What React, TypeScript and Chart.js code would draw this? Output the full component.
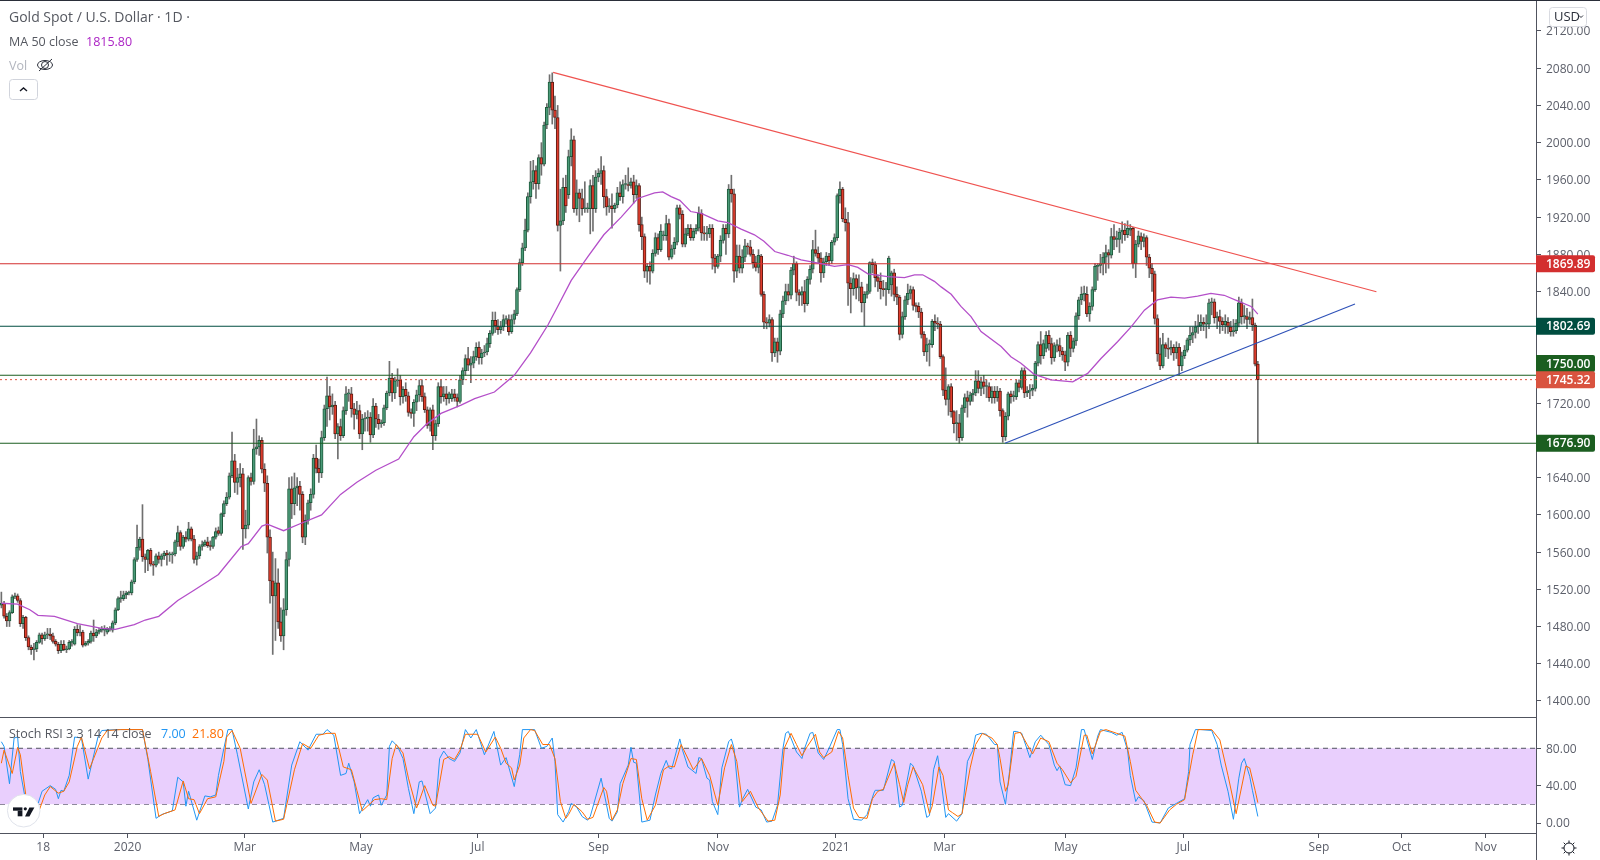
import React, { useEffect, useRef } from "react";
import { Chart, registerables } from "chart.js";
Chart.register(...registerables);

const FONT = '"Open Sans", "Noto Sans", sans-serif';

const opens = [
1503,1505,1491,1486,1495,1512,1513,1508,1483,1490,
1468,1458,1455,1456,1463,1471,1467,1471,1472,1470,
1464,1461,1454,1461,1455,1456,1463,1461,1477,1473,
1474,1460,1462,1464,1473,1470,1474,1476,1476,1474,
1477,1476,1484,1498,1510,1510,1514,1516,1516,1528,
1552,1565,1574,1555,1552,1562,1547,1546,1556,1552,
1556,1559,1557,1557,1558,1571,1581,1566,1576,1574,
1585,1574,1552,1556,1566,1568,1571,1567,1566,1576,
1583,1580,1601,1612,1619,1642,1658,1635,1640,1644,
1585,1589,1640,1636,1671,1673,1680,1649,1634,1576,
1529,1513,1527,1485,1470,1498,1552,1628,1612,1629,
1631,1622,1576,1594,1613,1622,1661,1650,1645,1683,
1714,1728,1716,1718,1687,1695,1685,1712,1730,1730,
1714,1708,1712,1687,1703,1704,1705,1686,1717,1703,
1698,1699,1715,1731,1747,1731,1744,1745,1727,1735,
1728,1710,1709,1721,1729,1739,1727,1713,1696,1713,
1685,1698,1738,1727,1730,1725,1725,1730,1726,1722,
1745,1755,1768,1761,1763,1770,1780,1769,1774,1775,
1784,1795,1809,1803,1799,1802,1810,1810,1797,1810,
1816,1842,1871,1887,1906,1942,1958,1970,1956,1984,
1977,2019,2038,2065,2035,2027,1911,1916,1952,1944,
1985,2003,1929,1946,1940,1929,1929,1929,1954,1929,
1963,1967,1970,1942,1931,1932,1929,1933,1946,1942,
1955,1955,1954,1958,1944,1954,1912,1899,1862,1867,
1862,1881,1898,1885,1900,1900,1913,1877,1886,1893,
1930,1923,1891,1902,1908,1898,1905,1908,1924,1903,
1902,1902,1908,1876,1867,1878,1895,1908,1902,1950,
1945,1862,1878,1865,1877,1889,1888,1880,1871,1866,
1878,1837,1807,1806,1810,1774,1786,1776,1816,1830,
1840,1836,1863,1870,1839,1836,1840,1827,1853,1864,
1885,1881,1876,1860,1872,1878,1873,1893,1898,1943,
1950,1918,1914,1849,1843,1854,1844,1845,1828,1837,
1840,1871,1869,1855,1851,1843,1842,1842,1847,1860,
1837,1834,1794,1813,1831,1838,1842,1825,1824,1818,
1794,1775,1783,1783,1808,1806,1805,1770,1734,1724,
1738,1711,1698,1699,1683,1715,1726,1722,1729,1731,
1744,1736,1743,1738,1738,1726,1733,1726,1733,1712,
1684,1706,1730,1727,1727,1742,1737,1755,1731,1733,
1734,1736,1763,1783,1771,1779,1793,1784,1769,1782,
1782,1776,1772,1764,1793,1779,1787,1814,1831,1837,
1837,1816,1824,1842,1867,1868,1870,1877,1882,1879,
1899,1896,1896,1904,1906,1901,1906,1908,1870,1891,
1899,1894,1898,1877,1865,1859,1811,1773,1760,1783,
1779,1778,1780,1774,1780,1760,1771,1777,1788,1793,
1796,1802,1803,1807,1805,1805,1828,1829,1812,1813,
1808,1804,1807,1802,1797,1798,1806,1828,1813,1813,
1810,1812,1804,1762];
const closes = [
1505,1491,1486,1495,1512,1513,1508,1483,1490,1468,
1458,1455,1456,1463,1471,1467,1471,1472,1470,1464,
1461,1454,1461,1455,1456,1463,1463,1477,1473,1474,
1460,1462,1464,1473,1470,1474,1476,1476,1477,1477,
1478,1484,1498,1510,1511,1514,1516,1516,1528,1552,
1565,1574,1555,1552,1562,1547,1546,1556,1552,1556,
1559,1557,1557,1558,1571,1581,1566,1576,1574,1585,
1574,1552,1556,1566,1568,1571,1567,1566,1576,1582,
1580,1601,1612,1619,1642,1658,1635,1640,1644,1585,
1589,1640,1636,1671,1673,1680,1649,1634,1576,1529,
1513,1527,1485,1470,1498,1552,1628,1612,1629,1631,
1622,1576,1594,1613,1622,1661,1650,1645,1683,1714,
1728,1716,1718,1687,1695,1685,1712,1730,1730,1714,
1708,1712,1687,1703,1704,1705,1686,1717,1703,1698,
1699,1715,1731,1747,1731,1744,1745,1727,1735,1728,
1710,1709,1721,1729,1739,1727,1713,1696,1713,1685,
1698,1738,1727,1730,1725,1730,1730,1726,1722,1745,
1755,1768,1761,1763,1770,1780,1769,1774,1775,1784,
1795,1809,1803,1799,1802,1810,1810,1797,1810,1816,
1842,1871,1887,1906,1942,1958,1970,1956,1984,1977,
2019,2038,2065,2035,2027,1911,1916,1952,1932,1985,
2003,1929,1946,1940,1929,1929,1929,1954,1929,1963,
1967,1970,1942,1931,1932,1929,1933,1946,1942,1955,
1955,1954,1958,1944,1954,1912,1899,1862,1867,1862,
1881,1898,1885,1905,1900,1913,1877,1886,1893,1930,
1923,1891,1902,1908,1898,1905,1908,1924,1903,1902,
1902,1908,1876,1867,1878,1895,1908,1902,1950,1945,
1862,1878,1865,1877,1889,1888,1880,1871,1866,1879,
1837,1807,1806,1810,1774,1786,1776,1816,1830,1840,
1836,1863,1870,1839,1836,1840,1827,1853,1864,1885,
1881,1876,1860,1872,1878,1873,1893,1898,1943,1950,
1918,1914,1849,1843,1854,1844,1845,1828,1837,1840,
1871,1869,1855,1851,1843,1842,1842,1876,1860,1837,
1834,1794,1813,1831,1838,1842,1825,1824,1818,1794,
1775,1783,1783,1808,1806,1805,1770,1734,1724,1738,
1711,1698,1699,1683,1715,1726,1722,1729,1731,1744,
1736,1743,1738,1738,1726,1733,1726,1733,1712,1684,
1706,1730,1727,1727,1742,1737,1755,1731,1733,1734,
1736,1763,1783,1771,1784,1793,1784,1769,1782,1782,
1776,1772,1764,1793,1779,1787,1814,1831,1837,1837,
1816,1824,1842,1867,1868,1870,1877,1882,1879,1899,
1896,1896,1904,1906,1901,1908,1908,1870,1891,1900,
1894,1898,1877,1865,1859,1811,1773,1760,1783,1779,
1778,1780,1774,1780,1760,1771,1777,1788,1793,1796,
1802,1803,1807,1805,1805,1828,1829,1812,1813,1808,
1804,1808,1802,1797,1798,1806,1828,1813,1813,1810,
1812,1804,1762,1745.32];
const highs = [
1517,1507,1494,1497,1514,1516,1515,1510,1492,1491,
1470,1460,1462,1465,1473,1473,1474,1478,1478,1473,
1466,1463,1465,1465,1459,1465,1466,1480,1482,1481,
1476,1464,1466,1475,1487,1477,1478,1480,1481,1479,
1480,1486,1500,1512,1518,1518,1518,1518,1530,1554,
1589,1576,1611,1558,1563,1564,1550,1558,1560,1558,
1561,1562,1560,1560,1573,1588,1583,1578,1582,1592,
1587,1578,1560,1568,1572,1573,1576,1572,1577,1586,
1587,1602,1615,1624,1645,1689,1665,1650,1655,1650,
1605,1642,1645,1692,1703,1685,1683,1655,1642,1584,
1560,1553,1542,1500,1510,1560,1640,1641,1645,1640,
1636,1625,1600,1616,1628,1665,1675,1660,1690,1718,
1748,1738,1730,1722,1698,1703,1716,1738,1735,1737,
1720,1722,1718,1708,1710,1712,1710,1725,1720,1708,
1702,1718,1733,1765,1752,1748,1757,1750,1738,1742,
1732,1714,1724,1734,1745,1745,1731,1716,1715,1718,
1702,1742,1745,1738,1738,1732,1735,1735,1730,1750,
1758,1772,1780,1770,1776,1785,1786,1778,1782,1790,
1798,1818,1818,1810,1808,1815,1814,1815,1815,1820,
1844,1875,1892,1918,1946,1980,1981,1975,1987,2000,
2022,2042,2073,2075,2050,2040,1950,1962,1965,1992,
2015,2007,1960,1950,1950,1958,1935,1960,1965,1970,
1972,1985,1975,1950,1940,1945,1935,1952,1958,1960,
1965,1973,1962,1965,1960,1956,1920,1902,1870,1872,
1885,1903,1902,1912,1905,1922,1918,1890,1898,1933,
1933,1927,1908,1912,1912,1908,1912,1931,1928,1910,
1910,1912,1912,1880,1880,1900,1912,1912,1955,1965,
1950,1890,1890,1885,1896,1892,1895,1885,1878,1885,
1880,1840,1812,1815,1812,1790,1790,1820,1835,1848,
1848,1866,1878,1872,1842,1845,1852,1856,1868,1895,
1906,1888,1882,1876,1882,1881,1895,1902,1945,1958,
1952,1930,1925,1855,1860,1858,1858,1850,1840,1848,
1872,1875,1872,1858,1860,1852,1850,1878,1862,1864,
1845,1836,1818,1835,1848,1846,1845,1828,1828,1822,
1797,1790,1788,1810,1815,1812,1808,1772,1758,1740,
1741,1712,1712,1708,1718,1730,1733,1732,1735,1755,
1755,1748,1750,1745,1742,1738,1738,1738,1736,1714,
1710,1732,1733,1733,1745,1745,1758,1758,1738,1740,
1740,1765,1786,1797,1788,1797,1798,1790,1785,1788,
1790,1780,1776,1796,1797,1790,1817,1834,1845,1846,
1845,1828,1845,1870,1870,1880,1882,1890,1885,1908,
1912,1905,1908,1915,1913,1916,1912,1909,1895,1905,
1903,1902,1900,1880,1870,1862,1815,1790,1795,1785,
1790,1787,1783,1786,1784,1775,1782,1790,1802,1802,
1808,1815,1815,1812,1815,1832,1833,1832,1818,1820,
1812,1815,1812,1808,1810,1810,1834,1832,1825,1822,
1818,1832,1806,1765];
const lows = [
1500,1489,1480,1480,1494,1510,1506,1480,1478,1465,
1455,1450,1444,1453,1462,1461,1465,1467,1466,1462,
1459,1451,1452,1454,1452,1455,1459,1460,1470,1470,
1458,1459,1460,1462,1464,1468,1472,1474,1470,1472,
1475,1474,1482,1497,1506,1508,1510,1514,1514,1526,
1550,1562,1550,1538,1540,1545,1535,1544,1548,1545,
1552,1546,1550,1548,1556,1566,1562,1564,1571,1572,
1572,1548,1546,1553,1562,1566,1565,1562,1564,1574,
1578,1578,1598,1610,1617,1640,1624,1622,1630,1563,
1575,1585,1632,1633,1665,1664,1645,1625,1559,1505,
1450,1465,1478,1464,1455,1492,1545,1596,1600,1610,
1605,1570,1568,1590,1605,1618,1645,1635,1640,1680,
1695,1702,1708,1682,1660,1680,1683,1708,1722,1705,
1692,1703,1682,1670,1690,1690,1678,1683,1694,1692,
1694,1696,1713,1728,1722,1725,1738,1718,1720,1722,
1706,1704,1695,1712,1722,1722,1710,1693,1690,1670,
1680,1695,1720,1722,1718,1720,1722,1722,1716,1720,
1740,1750,1755,1742,1758,1766,1762,1762,1770,1772,
1780,1793,1796,1794,1795,1798,1805,1793,1795,1805,
1814,1840,1868,1884,1904,1935,1950,1940,1950,1965,
1975,2015,2030,2020,2015,1905,1862,1912,1925,1940,
1975,1925,1922,1915,1922,1925,1925,1902,1905,1925,
1958,1955,1930,1922,1925,1908,1925,1930,1938,1935,
1950,1948,1951,1935,1940,1905,1885,1855,1850,1848,
1860,1878,1880,1883,1895,1895,1874,1875,1880,1890,
1918,1888,1888,1900,1895,1895,1902,1905,1895,1895,
1895,1898,1864,1860,1865,1872,1892,1880,1898,1936,
1850,1855,1860,1860,1872,1880,1878,1865,1862,1860,
1835,1800,1800,1802,1765,1770,1764,1772,1812,1826,
1830,1832,1858,1830,1825,1825,1818,1825,1848,1860,
1878,1870,1850,1855,1868,1868,1870,1890,1895,1935,
1915,1905,1825,1817,1836,1832,1830,1818,1803,1833,
1838,1860,1845,1840,1832,1835,1825,1838,1835,1830,
1826,1788,1790,1810,1826,1832,1820,1818,1812,1790,
1771,1765,1760,1780,1798,1800,1768,1728,1718,1707,
1705,1688,1680,1677,1680,1710,1705,1718,1722,1728,
1731,1728,1730,1726,1722,1720,1720,1722,1706,1678,
1680,1702,1720,1722,1724,1732,1735,1726,1727,1725,
1728,1733,1760,1762,1768,1775,1777,1762,1765,1775,
1770,1766,1755,1760,1770,1775,1782,1810,1826,1830,
1813,1808,1820,1840,1852,1860,1858,1860,1865,1876,
1885,1888,1882,1892,1895,1898,1900,1865,1855,1888,
1885,1888,1868,1855,1840,1805,1765,1756,1758,1770,
1768,1772,1766,1768,1750,1755,1768,1775,1782,1785,
1790,1795,1798,1798,1790,1800,1815,1806,1800,1795,
1798,1795,1795,1792,1792,1795,1802,1805,1806,1800,
1805,1798,1760,1677];

// MA 50 line, read at its visible bends
const maBars = [0,6,10.5,13.5,19.6,28,37,42,49,53,58,65,71,80,88.4,91,96,98,104,110.5,118,125,131,138,146.4,152,156.5,162,169.4,174.4,181.7,189,195,201.4,205,210,216,222,228.4,234.5,240.7,243.7,246.8,250,254,257.9,264,267.7,272.6,277.5,281,285,289.8,294.7,302,307,312,315.6,319.3,326.6,332.8,336.5,339.5,343.8,346.3,350,353.6,357.3,361,368.4,372,375.7,380.6,386.8,394.8,400.3,405.2,411.3,416.3,421.2,426,431,436,440.8,445.7,450.6,455.5,460.5,463];
const maValues = [1505,1504,1498,1492,1491,1483,1478,1477,1482,1487,1491,1508,1519,1536,1566,1569,1588,1590,1583,1591,1600,1622,1635,1648,1660,1684,1697,1709,1718,1725,1732,1750,1774,1804,1824,1852,1877,1901,1920,1940,1946,1947,1942,1938,1926,1924,1916,1914,1907,1901,1894,1883,1879,1874,1870,1867,1869,1866,1859,1856,1855,1858,1858,1851,1845,1837,1824,1813,1797,1781,1770,1763,1751,1745,1743,1752,1768,1786,1802,1820,1831,1834,1833,1835,1838,1836,1830,1824,1815.8];

// Stoch RSI, read at its turning points
const kBars = [0,1,3,4.7,6,7,9,13,15,18,20,21,22,23,25,27,29.5,32,35.6,37,42,52,54,57,59,63,65,67,68,69,72,75,77,79,80,82,83.5,85,87,91,93,95,97,100,104,107,110,113,116,118.5,120,122.5,125,127,128,130,132,135,136,137,139,140,142,143,144,146,148,150,152,154,155,158,160,161.5,163,165,167,169,171,173,175,178,181.5,184,186,189,191,192,196.5,199,201,203,204,205,207,209,210,212,214,216,217,221,224,225,227,228,231,232,233,234,236,239,241,243,245,246,247,250,251,253,256,257,258,260,261,262,264,265.5,268,269,270,272,273,275,278,280,282,284,286,288,289,290,293,295,296,298,299,301,303,305,308,309,310,312,314,317,319,321.5,322,325,328,329,331,332,335,336,339,341,342,343.5,345,346,348,349,352,354,356,358,359,361,363,366,367,368,370,371.5,373,374,376,379,381,383,386,388,389,390,392,394,396,398,399,402,404,405,409,411,413,415,416,418,419,421,424,427,430,433,436,437.5,438,440,442,446,448,449.5,452,454,456,457,458,460,461,463];
const kValues = [87,82,42,91,92,55,23,16,34,40,36,26,35,34,51,92,91,47,92,99,100,100,68,5,9,13,49,44,18,34,3,29,28,30,51,80,100,100,73,15,44,57,41,1,5,62,87,78,95,95,100,94,51,53,64,44,10,25,18,27,30,19,30,82,88,82,69,37,10,44,45,10,16,69,77,69,66,75,100,91,100,73,98,62,70,39,73,100,100,80,82,91,66,9,1,12,21,17,7,3,7,48,5,2,12,42,62,81,65,64,1,3,30,53,67,59,58,90,78,60,53,70,69,48,46,23,9,59,87,90,80,17,25,36,17,14,1,2,19,80,96,98,76,69,80,96,97,75,68,80,100,100,84,26,4,3,9,32,35,35,68,66,17,19,64,61,34,6,8,57,72,51,6,10,2,10,66,78,94,96,95,84,84,44,20,55,98,98,96,70,87,94,84,62,56,61,41,40,59,100,100,68,93,100,97,94,97,78,51,23,28,24,1,0,16,21,26,55,84,100,100,99,84,62,34,4,48,64,69,50,35,7];
const dBars = [0,1,4,6,7,9,14,16,18,21,23,25,28,29.5,32.5,34,37,39,44,52,55,58,60,64,67,69,71,73,76,79,82,83,85,88,92,96,98,101,104,108,111,114,117,120,123,126,129,131,133,137.5,140,142,144,145.5,148,150,153,156,159,160,163,165,167,169,171,175.5,178.5,182,184,186,188,189,191,192.5,195,196.5,199.5,202,204,206,208,209,211,214,216,218,222,223,225,227,229,232,234,236,238,241,244,246,248,250.5,252,255,258,261,264,266.5,269,271,273,276,279,282.5,285,287,288.5,291,293,295,297,300,301.5,303,306,308.5,310,312,314,316,319,321,323,325,329,331,332.5,334,336,339.5,342,343,345.5,347,349,350.5,352.5,354,357,359,361.5,365,367,368,370,371,373.5,375.5,378,380,383,386,389,391,394,396,399,400,402,405,407,411,414,416,418,420,422,425,427,430.5,433,436,439,441,446,449,452,455,458.6,460,462,463];
const dValues = [64,78,53,81,73,30,14,30,39,32,34,44,82,92,58,69,91,99,100,100,55,7,10,14,45,26,25,10,26,28,66,92,99,80,21,52,46,2,4,57,85,80,94,96,96,60,57,35,13,25,26,25,69,84,75,48,16,40,19,18,68,71,68,78,95,95,76,92,80,64,59,46,62,91,100,99,84,84,69,23,5,9,20,12,4,6,38,34,3,14,42,69,68,26,3,19,57,61,60,84,75,57,69,51,19,59,84,66,23,34,16,2,3,30,80,96,84,72,82,95,76,70,76,98,91,51,16,6,5,26,34,36,64,41,22,41,60,41,10,18,60,51,14,11,7,10,59,84,96,91,84,69,34,41,96,97,84,74,91,87,64,57,43,50,94,94,74,98,100,96,93,66,35,27,19,1,0,14,20,25,73,100,100,89,51,10,61,59,35,21.8];

const bandLevels = [80, 20];

const priceTickMin = 1400;
const priceTickMax = 2120;
const priceTickStep = 40;
const stochTicks = [80, 40, 0];

const xTickBars = [15.4, 46.5, 89.7, 132.5, 175.5, 220.1, 264, 307.5, 347.5, 392.2, 435.5, 485.5, 516, 546.9];
const xTickLabels = ["18", "2020", "Mar", "May", "Jul", "Sep", "Nov", "2021", "Mar", "May", "Jul", "Sep", "Oct", "Nov"];

const levelValues = [1869.89, 1802.69, 1750, 1676.9];
const levelColors = ["#d32f2f", "#004d40", "#1b5e20", "#1b5e20"];
const lastPrice = 1745.32;

const resistanceBars = [203.3, 506.7];
const resistanceValues = [2075.6, 1839.8];
const supportBars = [369.8, 498.8];
const supportValues = [1677, 1826.6];

const tagValues = [1869.89, 1802.69, 1750, 1745.32, 1676.9];
const tagColors = ["#d32f2f", "#004d40", "#1b5e20", "#d9533f", "#1b5e20"];
const tagShift = [0, 0, -11.7, 0, 0];

const minBar = -0.5;
const maxBar = 565.5;

const priceOverlay = {
  id: "priceOverlay",
  afterDraw(chart: any) {
    const ctx = chart.ctx;
    const y = chart.scales.y;
    ctx.save();
    ctx.fillStyle = "#50535e";
    ctx.fillRect(0, 717, 1536, 1);
    ctx.fillRect(1536, 0, 1, 718);
    ctx.fillStyle = "#2a2e39";
    ctx.fillRect(0, 0, 1600, 1);
    ctx.textBaseline = "middle";
    ctx.textAlign = "left";
    ctx.fillStyle = "#555860";
    ctx.font = `14px ${FONT}`;
    ctx.fillText("Gold Spot / U.S. Dollar · 1D ·", 9, 18);
    ctx.font = `12.5px ${FONT}`;
    ctx.fillText("MA 50 close", 9, 42);
    ctx.fillStyle = "#ab22c4";
    ctx.fillText("1815.80", 86, 42);
    ctx.fillStyle = "#b2b5be";
    ctx.fillText("Vol", 9, 66);
    // hidden-volume eye
    ctx.strokeStyle = "#2a2e39";
    ctx.lineWidth = 1;
    ctx.beginPath();
    ctx.ellipse(45, 65, 7.5, 4.5, 0, 0, Math.PI * 2);
    ctx.moveTo(48.5, 65);
    ctx.arc(45, 65, 3.5, 0, Math.PI * 2);
    ctx.moveTo(39, 71);
    ctx.lineTo(52, 59);
    ctx.stroke();
    // collapse button
    ctx.strokeStyle = "#d1d4dc";
    ctx.beginPath();
    ctx.roundRect(9.5, 79.5, 28, 20, 3);
    ctx.stroke();
    ctx.strokeStyle = "#131722";
    ctx.lineWidth = 1.4;
    ctx.beginPath();
    ctx.moveTo(20, 91);
    ctx.lineTo(23.5, 88);
    ctx.lineTo(27, 91);
    ctx.stroke();
    // price tags
    tagValues.forEach((v, i) => {
      const cy = y.getPixelForValue(v) + tagShift[i];
      ctx.fillStyle = tagColors[i];
      ctx.beginPath();
      ctx.roundRect(1536, cy - 8.5, 59, 17, [0, 2, 2, 0]);
      ctx.fill();
      ctx.fillStyle = "#ffffff";
      ctx.font = `600 12px ${FONT}`;
      ctx.fillText(v.toFixed(2), 1546, cy + 0.5);
    });
    // currency button
    ctx.fillStyle = "#ffffff";
    ctx.strokeStyle = "#d9dbe1";
    ctx.lineWidth = 1;
    ctx.beginPath();
    ctx.roundRect(1549.5, 7.5, 37, 19, 3);
    ctx.fill();
    ctx.stroke();
    ctx.fillStyle = "#2a2e39";
    ctx.font = `13px ${FONT}`;
    ctx.fillText("USD", 1554, 17);
    ctx.strokeStyle = "#2a2e39";
    ctx.beginPath();
    ctx.moveTo(1579, 15.5);
    ctx.lineTo(1581, 17.5);
    ctx.lineTo(1583, 15.5);
    ctx.stroke();
    ctx.restore();
  },
};

const stochOverlay = {
  id: "stochOverlay",
  afterDraw(chart: any) {
    const ctx = chart.ctx;
    ctx.save();
    ctx.fillStyle = "#50535e";
    ctx.fillRect(0, 115, 1536, 1);
    ctx.fillRect(1536, 0, 1, 142);
    ctx.textBaseline = "middle";
    ctx.textAlign = "left";
    ctx.font = `12.5px ${FONT}`;
    ctx.fillStyle = "#555860";
    ctx.fillText("Stoch RSI 3 3 14 14 close", 9, 16);
    ctx.fillStyle = "#2196f3";
    ctx.fillText("7.00", 161, 16);
    ctx.fillStyle = "#ff6d00";
    ctx.fillText("21.80", 192, 16);
    // logo badge
    const cx = 23.7;
    const cy = 92.7;
    ctx.fillStyle = "#ffffff";
    ctx.strokeStyle = "#e0e3eb";
    ctx.lineWidth = 1;
    ctx.beginPath();
    ctx.arc(cx, cy, 16.3, 0, Math.PI * 2);
    ctx.fill();
    ctx.stroke();
    ctx.fillStyle = "#131722";
    ctx.fillRect(cx - 10.7, cy - 3.3, 9.4, 3.3);
    ctx.fillRect(cx - 6, cy, 4.7, 5.6);
    ctx.beginPath();
    ctx.arc(cx + 1.6, cy - 1.9, 1.6, 0, Math.PI * 2);
    ctx.fill();
    ctx.beginPath();
    ctx.moveTo(cx + 5.7, cy - 3.3);
    ctx.lineTo(cx + 10.7, cy - 3.3);
    ctx.lineTo(cx + 5.7, cy + 5.8);
    ctx.lineTo(cx + 1.3, cy + 5.8);
    ctx.closePath();
    ctx.fill();
    // settings gear
    const gx = 1569;
    const gy = 130;
    ctx.strokeStyle = "#131722";
    ctx.lineWidth = 1;
    ctx.beginPath();
    ctx.arc(gx, gy, 5, 0, Math.PI * 2);
    for (let a = 0; a < 8; a++) {
      const t = (a * Math.PI) / 4;
      ctx.moveTo(gx + Math.cos(t) * 5, gy + Math.sin(t) * 5);
      ctx.lineTo(gx + Math.cos(t) * 7.5, gy + Math.sin(t) * 7.5);
    }
    ctx.stroke();
    ctx.restore();
  },
};

const tickFont = { family: FONT, size: 12 };
const hidePlugins = { legend: { display: false }, tooltip: { enabled: false }, title: { display: false } };

function pairs(xs: number[], ys: number[]) {
  return xs.map((x, i) => ({ x, y: ys[i] }));
}
function level(v: number) {
  return [{ x: minBar, y: v }, { x: maxBar, y: v }];
}
const thinLine = { type: "line", pointRadius: 0, borderWidth: 1, tension: 0, fill: false };
const noEdgePadding = (s: any) => {
  s.paddingTop = 0;
  s.paddingBottom = 0;
  s.paddingLeft = 0;
  s.paddingRight = 0;
};

export default function App() {
  const priceRef = useRef<HTMLCanvasElement | null>(null);
  const stochRef = useRef<HTMLCanvasElement | null>(null);

  useEffect(() => {
    const price = new Chart(priceRef.current as any, {
      type: "bar",
      data: {
        datasets: [
          { ...thinLine, label: "MA 50", data: pairs(maBars, maValues), borderColor: "#b44fc9", borderWidth: 1.3 },
          { ...thinLine, label: "Resistance", data: pairs(resistanceBars, resistanceValues), borderColor: "#ef5350", borderWidth: 1.2 },
          { ...thinLine, label: "Support", data: pairs(supportBars, supportValues), borderColor: "#2f52b8", borderWidth: 1.2 },
          ...levelValues.map((v, i) => ({ ...thinLine, label: `Level ${v}`, data: level(v), borderColor: levelColors[i], borderWidth: 1.1 })),
          { ...thinLine, label: "Last", data: level(lastPrice), borderColor: "#e0523f", borderDash: [2, 3] },
          {
            label: "Body",
            data: opens.map((o, i) => ({ x: i, y: [o, closes[i]] })),
            backgroundColor: opens.map((o, i) => (closes[i] >= o ? "#4a9a78" : "#e03c2c")),
            borderColor: opens.map((o, i) => (closes[i] >= o ? "#1e5a3c" : "#5a1c14")),
            borderWidth: 1,
            borderSkipped: false,
            barThickness: 3,
            minBarLength: 1,
            grouped: false,
          },
          {
            label: "Wick",
            data: lows.map((l, i) => ({ x: i, y: [l, highs[i]] })),
            backgroundColor: "#6f6f6f",
            borderWidth: 0,
            barThickness: 1,
            grouped: false,
          },
        ] as any,
      },
      options: {
        animation: false,
        responsive: false,
        devicePixelRatio: 1,
        events: [],
        layout: { padding: { top: 1, left: 0, right: 0, bottom: 0 } },
        plugins: hidePlugins,
        scales: {
          x: { type: "linear", min: minBar, max: maxBar, display: false, offset: false, grid: { offset: false } },
          y: {
            type: "linear",
            position: "right",
            min: 1381.7,
            max: 2152.24,
            border: { display: false },
            grid: { drawOnChartArea: false, drawTicks: true, tickLength: 5, tickColor: "#50535e" },
            ticks: { color: "#5d606b", font: tickFont, padding: 5, labelOffset: 1, stepSize: priceTickStep, callback: (v: any) => Number(v).toFixed(2) },
            afterBuildTicks: (s: any) => {
              const t = [];
              for (let v = priceTickMin; v <= priceTickMax; v += priceTickStep) t.push({ value: v });
              s.ticks = t;
            },
            afterFit: (s: any) => { s.width = 64; noEdgePadding(s); },
          },
        },
      } as any,
      plugins: [priceOverlay],
    });

    const stoch = new Chart(stochRef.current as any, {
      type: "line",
      data: {
        datasets: [
          { ...thinLine, label: "%D", data: pairs(dBars, dValues), borderColor: "#ff6d00" },
          { ...thinLine, label: "%K", data: pairs(kBars, kValues), borderColor: "#2196f3" },
          { ...thinLine, label: "Upper", data: level(bandLevels[0]), borderColor: "#50535e", borderDash: [5, 4], fill: "+1", backgroundColor: "#e9cffd" },
          { ...thinLine, label: "Lower", data: level(bandLevels[1]), borderColor: "#50535e", borderDash: [5, 4] },
        ] as any,
      },
      options: {
        animation: false,
        responsive: false,
        devicePixelRatio: 1,
        events: [],
        layout: { padding: 0 },
        plugins: hidePlugins,
        scales: {
          x: {
            type: "linear",
            min: minBar,
            max: maxBar,
            offset: false,
            border: { display: false },
            grid: { drawOnChartArea: false, drawTicks: true, tickLength: 5, tickColor: "#50535e" },
            ticks: {
              color: "#5d606b",
              font: tickFont,
              padding: 2,
              maxRotation: 0,
              autoSkip: false,
              callback: (v: any) => {
                const i = xTickBars.indexOf(Number(v));
                return i >= 0 ? xTickLabels[i] : "";
              },
            },
            afterBuildTicks: (s: any) => { s.ticks = xTickBars.map((value) => ({ value })); },
            afterFit: (s: any) => { s.height = 27; noEdgePadding(s); },
          },
          y: {
            type: "linear",
            position: "right",
            min: -10.7,
            max: 112.4,
            border: { display: false },
            grid: { drawOnChartArea: false, drawTicks: true, tickLength: 5, tickColor: "#50535e" },
            ticks: { color: "#5d606b", font: tickFont, padding: 5, labelOffset: 1, callback: (v: any) => Number(v).toFixed(2) },
            afterBuildTicks: (s: any) => { s.ticks = stochTicks.map((value) => ({ value })); },
            afterFit: (s: any) => { s.width = 64; noEdgePadding(s); },
          },
        },
      } as any,
      plugins: [stochOverlay],
    });

    return () => {
      price.destroy();
      stoch.destroy();
    };
  }, []);

  return (
    <div style={{ position: "fixed", left: 0, top: 0, width: 1600, height: 860, background: "#ffffff", overflow: "hidden" }}>
      <canvas ref={priceRef} width={1600} height={718} style={{ position: "absolute", left: 0, top: 0, display: "block" }} />
      <canvas ref={stochRef} width={1600} height={142} style={{ position: "absolute", left: 0, top: 718, display: "block" }} />
    </div>
  );
}
